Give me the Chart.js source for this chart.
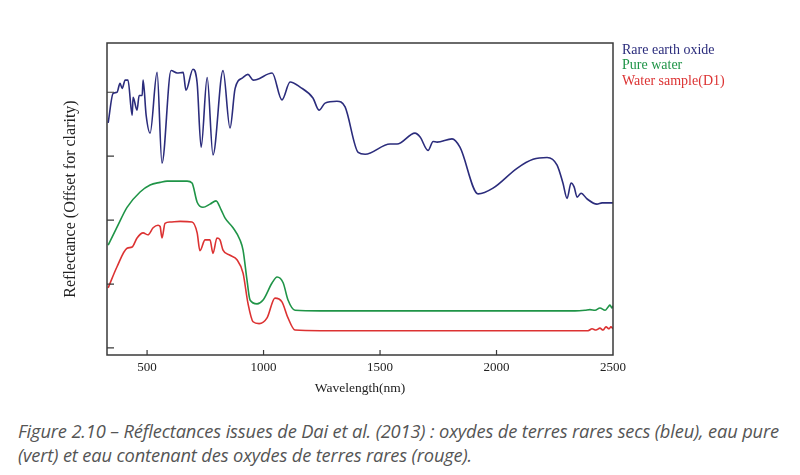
<!DOCTYPE html>
<html>
<head>
<meta charset="utf-8">
<script src="https://cdn.jsdelivr.net/npm/chart.js@4.4.1/dist/chart.umd.min.js"></script>
<style>
  body { margin: 0; background: #fff; }
  #wrap { position: absolute; left: 0; top: 0; width: 800px; height: 400px; }
  #caption {
    position: absolute; left: 18px; top: 419px;
    font-family: "Open Sans", sans-serif; font-style: italic;
    font-size: 18.3px; line-height: 24px; color: #555;
    white-space: nowrap; letter-spacing: -0.15px;
  }
</style>
</head>
<body>
<div id="wrap"><canvas id="mycanvas" width="800" height="400"></canvas></div>
<div id="caption">Figure 2.10 – Réflectances issues de Dai et al. (2013) : oxydes de terres rares secs (bleu), eau pure<br>(vert) et eau contenant des oxydes de terres rares (rouge).</div>
<script>
// values (wavelength in nm, reflectance offset units)
var blueWl = [333, 354, 371, 384, 393, 406, 418, 436, 440, 457, 466, 479, 483, 496, 513, 543, 564, 603, 629, 655, 667, 697, 715, 732, 758, 783, 826, 856, 878, 912, 933, 955, 972, 1037, 1079, 1114, 1157, 1212, 1238, 1264, 1315, 1350, 1406, 1436, 1543, 1573, 1650, 1672, 1706, 1728, 1745, 1809, 1843, 1921, 1985, 2088, 2157, 2217, 2260, 2285, 2303, 2320, 2333, 2346, 2363, 2389, 2431, 2453, 2500];
var blueVal = [3.52, 3.98, 4.00, 4.14, 4.06, 4.19, 4.19, 3.64, 3.92, 3.72, 3.95, 3.95, 4.19, 3.64, 3.36, 4.31, 2.89, 4.34, 4.30, 4.31, 4.03, 4.36, 4.14, 3.14, 4.23, 3.02, 4.34, 3.44, 4.06, 4.23, 4.28, 4.19, 4.20, 4.30, 3.88, 4.16, 4.08, 3.91, 3.72, 3.83, 3.86, 3.77, 3.06, 3.03, 3.19, 3.19, 3.36, 3.30, 3.09, 3.23, 3.22, 3.27, 3.14, 2.41, 2.50, 2.81, 2.95, 2.98, 2.86, 2.58, 2.34, 2.58, 2.52, 2.36, 2.42, 2.33, 2.25, 2.27, 2.27];

var greenWl = [333, 371, 414, 470, 513, 556, 586, 672, 693, 715, 740, 770, 796, 818, 835, 869, 899, 912, 929, 942, 972, 998, 1037, 1058, 1084, 1105, 1135, 1243, 2337, 2380, 2401, 2423, 2444, 2466, 2479, 2487, 2496, 2500];
var greenVal = [1.61, 1.89, 2.20, 2.44, 2.55, 2.59, 2.61, 2.61, 2.58, 2.28, 2.20, 2.25, 2.30, 2.16, 2.03, 1.88, 1.69, 1.53, 1.06, 0.75, 0.69, 0.75, 1.02, 1.11, 1.02, 0.75, 0.59, 0.58, 0.58, 0.59, 0.60, 0.59, 0.625, 0.59, 0.64, 0.67, 0.625, 0.66];

var redWl = [333, 371, 414, 436, 457, 483, 504, 526, 547, 556, 564, 577, 599, 642, 693, 715, 727, 749, 770, 783, 800, 813, 826, 856, 886, 912, 933, 955, 981, 1015, 1049, 1079, 1105, 1135, 1243, 2393, 2410, 2427, 2444, 2457, 2470, 2483, 2491, 2500];
var redVal = [0.94, 1.27, 1.56, 1.58, 1.72, 1.80, 1.77, 1.88, 1.92, 1.90, 1.72, 1.95, 1.97, 1.98, 1.97, 1.80, 1.52, 1.69, 1.69, 1.48, 1.72, 1.69, 1.53, 1.45, 1.38, 1.17, 0.70, 0.41, 0.38, 0.47, 0.78, 0.72, 0.47, 0.28, 0.27, 0.27, 0.30, 0.28, 0.31, 0.28, 0.33, 0.30, 0.33, 0.30];

var seriesNames = ["Rare earth oxide", "Pure water", "Water sample(D1)"];
var xTicks = [500, 1000, 1500, 2000, 2500];
var yTicks = [0, 1, 2, 3, 4];

function pts(xs, ys) {
	var out = [];
	for (var i in xs) {
		out.push({x: xs[i], y: ys[i]});
	}
	return out;
}

var serif = "'Liberation Serif', 'Times New Roman', serif";

// frame, inner ticks and the coloured text legend
var framePlugin = {
	id: 'frame',
	afterDraw: function(chart) {
		var c = chart.ctx, a = chart.chartArea;
		var xs = chart.scales.x, ys = chart.scales.y;
		c.save();
		c.strokeStyle = '#3a3a3a';
		c.lineWidth = 1.5;
		c.strokeRect(a.left, a.top, a.right - a.left, a.bottom - a.top);
		c.lineWidth = 1.2;
		c.beginPath();
		xTicks.forEach(function(v) {
			var px = xs.getPixelForValue(v);
			if (v < 2500) {
				c.moveTo(px, a.bottom);
				c.lineTo(px, a.bottom - 5);
			}
		});
		yTicks.forEach(function(v) {
			var py = ys.getPixelForValue(v);
			c.moveTo(a.left, py);
			c.lineTo(a.left + 7, py);
		});
		c.stroke();
		c.font = "14px " + serif;
		c.textBaseline = 'middle';
		chart.data.datasets.forEach(function(ds, i) {
			c.fillStyle = ds.borderColor;
			c.fillText(ds.label, a.right + 9, a.top + 7 + i * 15.5);
		});
		c.restore();
	}
};

var chartdata = {
	datasets: [
		{
			label: seriesNames[0],
			borderColor: "#2b2c7c",
			data: pts(blueWl, blueVal)
		},
		{
			label: seriesNames[1],
			borderColor: "#1f9447",
			data: pts(greenWl, greenVal)
		},
		{
			label: seriesNames[2],
			borderColor: "#dc3232",
			data: pts(redWl, redVal)
		}
	]
};

var ctx = document.getElementById("mycanvas");

var LineGraph = new Chart(ctx, {
	type: 'line',
	data: chartdata,
	plugins: [framePlugin],
	options: {
		responsive: false,
		animation: false,
		devicePixelRatio: 1,
		layout: { padding: { left: 61, top: 43, right: 187, bottom: 0 } },
		elements: {
			point: { radius: 0 },
			line: { borderWidth: 1.6, cubicInterpolationMode: 'monotone', fill: false }
		},
		plugins: {
			legend: { display: false },
			tooltip: { enabled: false }
		},
		scales: {
			x: {
				type: 'linear',
				min: 328,
				max: 2500,
				afterBuildTicks: function(scale) {
					scale.ticks = xTicks.map(function(v) { return {value: v}; });
				},
				afterFit: function(scale) { scale.height = 45; },
				grid: { display: false, drawTicks: false },
				border: { display: false },
				ticks: {
					color: '#222', padding: 5, maxRotation: 0,
					font: { family: serif, size: 13 },
					callback: function(v) { return String(v); }
				},
				title: {
					display: true,
					text: 'Wavelength(nm)',
					color: '#222',
					padding: { top: 0, bottom: 3 },
					font: { family: serif, size: 13.5 }
				}
			},
			y: {
				type: 'linear',
				min: -0.11,
				max: 4.77,
				afterBuildTicks: function(scale) {
					scale.ticks = yTicks.map(function(v) { return {value: v}; });
				},
				afterFit: function(scale) { scale.width = 46; },
				grid: { display: false, drawTicks: false },
				border: { display: false },
				ticks: { display: false },
				title: {
					display: true,
					text: 'Reflectance (Offset for clarity)',
					color: '#222',
					padding: { top: 0, bottom: 0 },
					font: { family: serif, size: 16 }
				}
			}
		}
	}
});
</script>
</body>
</html>
